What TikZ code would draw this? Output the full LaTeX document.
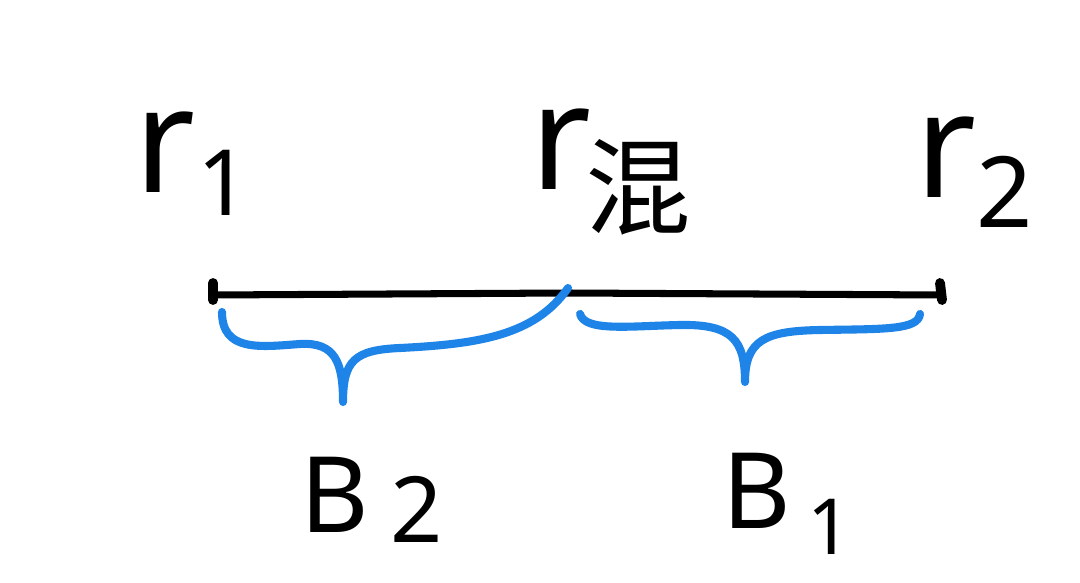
\documentclass[tikz,border=0pt]{standalone}
\usepackage{fontspec}
\setmainfont{Noto Sans}
\newfontfamily\cjk{Noto Sans CJK SC}
\definecolor{braceblue}{RGB}{30,132,232}
\begin{document}
\begin{tikzpicture}[x=0.01cm,y=-0.01cm,
  lbl/.style={inner sep=0pt,anchor=base west,font=\fontsize{42}{46}\selectfont},
  blbl/.style={inner sep=0pt,anchor=base west,font=\fontsize{30}{34}\selectfont},
  seg/.style={line width=2pt,black,line cap=round},
  tick/.style={line width=2.8pt,black,line cap=round},
  brc/.style={line width=2.3pt,braceblue,line cap=round,line join=round}]
\useasboundingbox[fill=white] (0,0) rectangle (1080,583);
% points on the line
\coordinate (A) at (213,295);
\coordinate (M) at (568,293);
\coordinate (C) at (942,295);
\draw[seg] (A) -- (M) -- (C);
\draw[tick] (213,283) -- (213,300);
\draw[tick] (940,283) -- (942,300);
% labels
\node[lbl] (r1) at (134,193) {r\kern0.01em\raisebox{-0.15em}{\fontsize{26}{28}\selectfont 1}};
\node[lbl] (rm) at (530,190) {r\kern-0.04em\raisebox{-0.25em}{\fontsize{30}{32}\selectfont\cjk 混}};
\node[lbl] (r2) at (915,198) {r\raisebox{-0.2em}{\fontsize{28}{30}\selectfont 2}};
% braces
\draw[brc] (222,312) .. controls (222,352) and (260,347) .. (300,344)
  .. controls (335,342) and (343,362) .. (343,402)
  .. controls (343,360) and (355,350) .. (400,348)
  .. controls (480,344) and (535,335) .. (568,288);
\draw[brc] (580,314) .. controls (585,332) and (630,326) .. (680,325)
  .. controls (732,324) and (745,340) .. (745,382)
  .. controls (745,340) and (765,331) .. (820,330)
  .. controls (885,329) and (918,330) .. (920,314);
\coordinate (t2) at (343,402);
\coordinate (t1) at (745,382);
\node[blbl] (b2) at (300,532) {B\kern0.2em\raisebox{-0.1em}{\fontsize{26}{28}\selectfont 2}};
\node[blbl] (b1) at (722,528) {B\kern0.15em\raisebox{-0.25em}{\fontsize{22}{24}\selectfont 1}};
\end{tikzpicture}
\end{document}
